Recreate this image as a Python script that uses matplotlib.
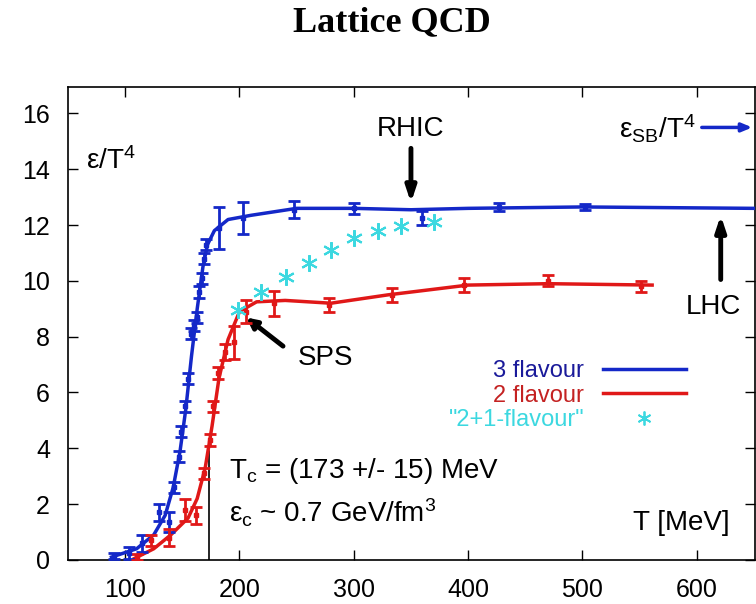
import matplotlib.pyplot as plt
import numpy as np

plt.rcParams["font.family"] = ["Liberation Sans", "DejaVu Sans"]
plt.rcParams["mathtext.fontset"] = "custom"
plt.rcParams["mathtext.rm"] = "Liberation Sans"
plt.rcParams["mathtext.it"] = "Liberation Sans"

# 3 flavour (blue) data points with errors
T3 = [90, 103, 115, 130, 138, 143, 147, 149, 152, 155, 158, 160, 163, 165, 167, 169, 171, 182, 203, 248, 300, 360, 427, 502]
e3 = [0.15, 0.25, 0.6, 1.7, 1.35, 2.6, 3.7, 4.6, 5.5, 6.5, 8.1, 8.4, 8.7, 9.6, 10.1, 10.8, 11.3, 11.9, 12.25, 12.55, 12.6, 12.25, 12.65, 12.65]
err3 = [0.1, 0.2, 0.3, 0.3, 0.35, 0.2, 0.2, 0.2, 0.2, 0.2, 0.2, 0.2, 0.2, 0.2, 0.2, 0.2, 0.2, 0.75, 0.58, 0.3, 0.2, 0.25, 0.15, 0.12]
# smooth 3 flavour curve
T3_line = [88, 110, 125, 135, 142, 148, 153, 158, 163, 168, 172, 178, 190, 210, 250, 300, 350, 400, 500, 650]
e3_line = [0.1, 0.4, 0.9, 1.6, 2.6, 3.9, 5.4, 7.3, 9.0, 10.5, 11.3, 11.8, 12.2, 12.35, 12.6, 12.6, 12.55, 12.6, 12.65, 12.6]

# 2 flavour (red) data points with errors
T2 = [110, 123, 138, 152, 162, 169, 174, 177, 181, 187, 195, 206, 230, 278, 333, 396, 470, 551]
e2 = [0.1, 0.7, 0.8, 1.8, 1.6, 3.1, 4.3, 5.5, 6.7, 7.45, 7.8, 8.9, 9.2, 9.15, 9.5, 9.85, 10.0, 9.8]
err2 = [0.1, 0.2, 0.3, 0.4, 0.3, 0.2, 0.2, 0.2, 0.2, 0.3, 0.6, 0.4, 0.45, 0.25, 0.25, 0.25, 0.2, 0.2]
T2_line = [108, 125, 140, 155, 163, 170, 176, 182, 190, 200, 215, 240, 280, 330, 400, 470, 561]
e2_line = [0.05, 0.4, 0.9, 1.5, 2.2, 3.3, 4.8, 6.5, 7.9, 8.9, 9.25, 9.3, 9.2, 9.5, 9.85, 9.9, 9.85]

# "2+1-flavour" (cyan)
T21 = [199, 219, 241, 261, 280, 300, 321, 341, 370]
e21 = [8.95, 9.6, 10.15, 10.65, 11.1, 11.55, 11.8, 11.95, 12.1]

x_ticks = [100, 200, 300, 400, 500, 600]
y_ticks = [0, 2, 4, 6, 8, 10, 12, 14, 16]

T_c = 173
eps_SB = 15.5

blue = "#1428c8"
red = "#e01818"
cyan = "#3cd8e0"

fig = plt.figure(figsize=(7.56, 6.04), dpi=100)
ax = fig.add_axes([0.09, 0.073, 0.9087, 0.783])

ax.plot(T3_line, e3_line, color=blue, lw=2.5, zorder=3)
ax.errorbar(T3, e3, yerr=err3, fmt="s", ms=3.5, color=blue, ecolor=blue,
            elinewidth=2, capsize=4, capthick=2, zorder=4)
ax.plot(T2_line, e2_line, color=red, lw=2.5, zorder=3)
ax.errorbar(T2, e2, yerr=err2, fmt="s", ms=3.5, color=red, ecolor=red,
            elinewidth=2, capsize=4, capthick=2, zorder=4)
ax.plot(T21, e21, ls="none", marker=(6, 2, 0), ms=12, mew=1.5, color=cyan, zorder=5)

# T_c line
ax.plot([T_c, T_c], [0, 3.9], color="black", lw=1.2, zorder=2)

ax.set_xlim(50, 651)
ax.set_ylim(0, 16.95)
ax.set_xticks(x_ticks)
ax.set_yticks(y_ticks)
ax.tick_params(direction="in", length=7, width=1, top=True, right=True,
               labelsize=18, pad=13)
for s in ax.spines.values():
    s.set_linewidth(1.2)

# legend
h3, = ax.plot([], [], color=blue, lw=2.5)
h2, = ax.plot([], [], color=red, lw=2.5)
h21, = ax.plot([], [], ls="none", marker=(6, 2, 0), ms=10, mew=1.3, color=cyan)
ax.legend([h3, h2, h21], ["3 flavour", "2 flavour", '"2+1-flavour"'],
          loc="upper right", bbox_to_anchor=(0.93, 0.468), frameon=False,
          markerfirst=False, fontsize=17, handlelength=3.5, labelspacing=0.12,
          handletextpad=0.8, labelcolor=["#1a1a9a", "#c42222", cyan])

# labels and annotations
ax.text(66, 14.3, r"ε/T$^4$", fontsize=20, va="center")
ax.text(350, 15.45, "RHIC", fontsize=20, ha="center", va="center")
ax.annotate("", xy=(350, 12.7), xytext=(350, 14.85),
            arrowprops=dict(arrowstyle="-|>,head_width=0.3,head_length=0.9", color="black", lw=3.5))
ax.text(599, 15.45, r"ε$_{\rm SB}$/T$^4$", fontsize=20, ha="right", va="center")
ax.annotate("", xy=(651, eps_SB), xytext=(602, eps_SB),
            arrowprops=dict(arrowstyle="-|>,head_width=0.25,head_length=0.6", color=blue, lw=2.5),
            annotation_clip=False)
ax.text(615, 9.05, "LHC", fontsize=20, ha="center", va="center")
ax.annotate("", xy=(621, 12.45), xytext=(621, 9.95),
            arrowprops=dict(arrowstyle="-|>,head_width=0.3,head_length=0.9", color="black", lw=3.5))
ax.text(251, 7.25, "SPS", fontsize=20, va="center")
ax.annotate("", xy=(204, 8.75), xytext=(240, 7.6),
            arrowprops=dict(arrowstyle="-|>,head_width=0.3,head_length=0.6", color="black", lw=3.5))
ax.text(191, 3.2, r"T$_{\rm c}$ = (173 +/- 15) MeV", fontsize=20, va="center")
ax.text(191, 1.7, r"ε$_{\rm c}$ ~ 0.7 GeV/fm$^3$", fontsize=20, va="center")
ax.text(629, 1.33, "T [MeV]", fontsize=20, ha="right", va="center")

fig.text(0.518, 0.962, "Lattice QCD", fontsize=26, fontweight="bold",
         family="Liberation Serif", ha="center", va="center")

plt.savefig("out.png", dpi=100)
plt.close()
